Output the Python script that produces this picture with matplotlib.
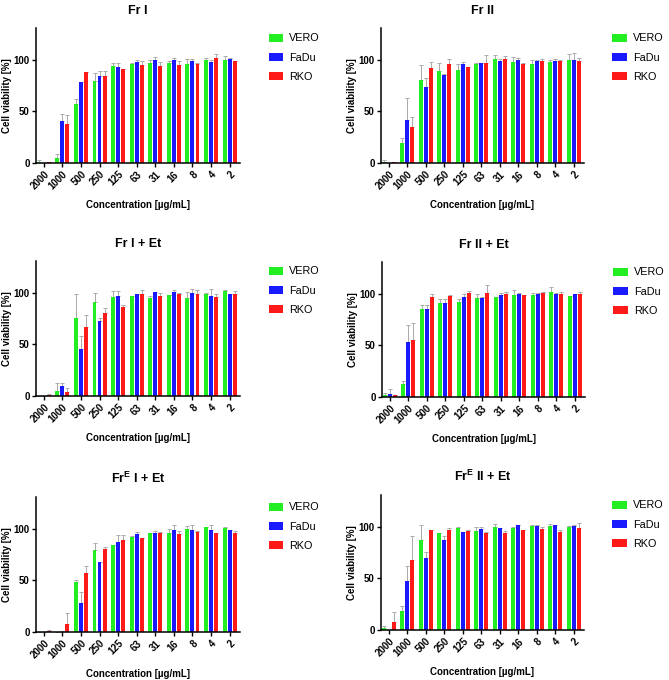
import numpy as np
import matplotlib
matplotlib.use("Agg")
import matplotlib.pyplot as plt

plt.rcParams['font.family'] = ['Liberation Sans', 'DejaVu Sans']
plt.rcParams['mathtext.fontset'] = 'custom'
plt.rcParams['mathtext.bf'] = 'Liberation Sans:bold'
plt.rcParams['mathtext.rm'] = 'Liberation Sans'

conc = ['2000', '1000', '500', '250', '125', '63', '31', '16', '8', '4', '2']
cells = ['VERO', 'FaDu', 'RKO']
colors = ['#22ee22', '#1a1aff', '#ff1a1a']  # green, blue, red

titles = ['Fr I', 'Fr II', 'Fr I + Et', 'Fr II + Et',
          r'Fr$^{\bf E}$ I + Et', r'Fr$^{\bf E}$ II + Et']

# [1] Fr I
fr1_vero = [1, 5, 57, 80, 94, 96.5, 97, 97.5, 96, 100, 99.5]
fr1_vero_sd = [2, 4, 5, 7, 3, 0.5, 3, 1, 5, 2, 4.5]
fr1_fadu = [0, 40.5, 79, 84.5, 93, 98, 100, 100, 99, 98, 100.5]
fr1_fadu_sd = [0, 7.5, 0, 4.5, 4, 1.5, 3, 1.5, 2, 2, 1.5]
fr1_rko = [0.5, 37.5, 88, 84, 91, 95, 94.5, 95.5, 96, 101.5, 98.5]
fr1_rko_sd = [0, 9.5, 0, 5, 0, 4, 3.5, 3.5, 1, 4.5, 0]

# [2] Fr II
fr2_vero = [1, 19.5, 81, 89, 90, 96.5, 100.5, 98, 96, 98, 100]
fr2_vero_sd = [2, 4.5, 14, 8, 6, 0.5, 4.5, 5, 3.5, 2, 5.5]
fr2_fadu = [0, 42, 74, 85, 96, 97, 99, 99.5, 99, 98.5, 100]
fr2_fadu_sd = [0, 21, 8, 1.5, 2, 0.5, 2, 2, 0.5, 2, 7]
fr2_rko = [0.5, 35, 92, 96, 93.5, 97.5, 101, 96.5, 99, 99, 98.5]
fr2_rko_sd = [0, 10, 6, 5, 0, 7.5, 2.5, 0.5, 1.5, 0.5, 3.5]

# [3] Fr I + Et
fr1et_vero = [0, 5, 76, 91, 96.5, 97.5, 95, 98, 95.5, 98.5, 102]
fr1et_vero_sd = [0, 8, 23, 9, 5.5, 0, 2, 0, 5.5, 1.5, 0.5]
fr1et_fadu = [0, 10, 46, 72.5, 97, 98.5, 100.5, 101, 100, 97.5, 98.5]
fr1et_fadu_sd = [0, 3, 12, 3.5, 4.5, 0.5, 0.5, 2, 4, 6.5, 0]
fr1et_rko = [0.5, 4, 67, 81, 86, 99, 97, 98.5, 99, 96.5, 99]
fr1et_rko_sd = [1.5, 4, 12, 4, 2, 4, 3, 1.5, 3.5, 2.5, 3]

# [4] Fr II + Et
fr2et_vero = [2, 13, 85, 91.5, 92, 96.5, 97.5, 99, 99, 102, 98]
fr2et_vero_sd = [2, 2.5, 4, 3.5, 3.5, 3, 0, 5, 1.5, 5, 0]
fr2et_fadu = [3, 53, 85, 91.5, 97.5, 96.5, 99, 100, 99.5, 100, 99.5]
fr2et_fadu_sd = [4.5, 17, 4, 3.5, 2, 0.5, 2, 0.5, 1, 1, 0]
fr2et_rko = [1.5, 55, 97, 98, 100.5, 101, 100, 98.5, 100.5, 100, 100]
fr2et_rko_sd = [0.5, 17, 2.5, 0.5, 2.5, 8, 2, 0, 1, 2, 2]

# [5] FrE I + Et
fre1et_vero = [0, 0, 48.5, 80, 84, 92, 96, 96.5, 99.5, 101.5, 101]
fre1et_vero_sd = [0, 0, 1.5, 6, 0, 1.5, 0, 3.5, 3.5, 0.5, 0.5]
fre1et_fadu = [0, 0.3, 28.5, 68, 87, 95.5, 96, 98.5, 98.5, 99, 98.5]
fre1et_fadu_sd = [0, 0.3, 10, 0, 7, 1.5, 2, 5.5, 5.5, 5, 0]
fre1et_rko = [0.8, 8, 57, 81, 89.5, 91, 96, 95.5, 97, 96.5, 96]
fre1et_rko_sd = [1.2, 10.5, 7.5, 1.5, 4.5, 0, 1.5, 2.5, 1, 0, 2]

# [6] FrE II + Et
fre2et_vero = [1.5, 18, 87, 94, 98.5, 96, 100, 99, 101, 101, 99.5]
fre2et_vero_sd = [2.5, 5.5, 14.5, 0, 1, 3.5, 2.5, 1, 1, 1.5, 1]
fre2et_fadu = [0, 47.5, 70, 87.5, 95, 98, 98.5, 101.5, 101, 101.5, 101]
fre2et_fadu_sd = [0, 14.5, 5.5, 3.5, 0, 1.5, 0, 0.5, 0.5, 0.5, 1]
fre2et_rko = [7.5, 68, 97, 97, 96.5, 94.5, 94, 97.5, 98, 95.5, 99]
fre2et_rko_sd = [9.5, 23, 0.5, 2, 0.5, 1, 2, 0, 1.5, 2, 4.5]

panels = [
    ([fr1_vero, fr1_fadu, fr1_rko], [fr1_vero_sd, fr1_fadu_sd, fr1_rko_sd]),
    ([fr2_vero, fr2_fadu, fr2_rko], [fr2_vero_sd, fr2_fadu_sd, fr2_rko_sd]),
    ([fr1et_vero, fr1et_fadu, fr1et_rko], [fr1et_vero_sd, fr1et_fadu_sd, fr1et_rko_sd]),
    ([fr2et_vero, fr2et_fadu, fr2et_rko], [fr2et_vero_sd, fr2et_fadu_sd, fr2et_rko_sd]),
    ([fre1et_vero, fre1et_fadu, fre1et_rko], [fre1et_vero_sd, fre1et_fadu_sd, fre1et_rko_sd]),
    ([fre2et_vero, fre2et_fadu, fre2et_rko], [fre2et_vero_sd, fre2et_fadu_sd, fre2et_rko_sd]),
]

# axes boxes in pixels: left, right, top, bottom
boxes = [(36, 240, 28, 163), (381, 584, 28, 163),
         (36, 240, 261, 396), (382, 585, 262, 397),
         (36, 240, 497, 632), (381, 584, 495, 630)]

W, H = 669, 680
fig = plt.figure(figsize=(W / 100, H / 100), dpi=100)

x = np.arange(len(conc))
offsets = [-0.27, 0, 0.27]
bw = 0.21

for (vals, sds), (l, r, t, b), title in zip(panels, boxes, titles):
    ax = fig.add_axes([l / W, (H - b) / H, (r - l) / W, (b - t) / H])
    for i in range(3):
        ax.bar(x + offsets[i], vals[i], width=bw, color=colors[i],
               label=cells[i], zorder=2)
        sd = np.array(sds[i])
        ax.errorbar(x + offsets[i], vals[i], yerr=[np.zeros_like(sd), sd],
                    fmt='none', ecolor='#aaaaaa', elinewidth=0.7,
                    capsize=1.2, capthick=0.7, zorder=1)

    ax.set_xlim(-0.42, 10.56)
    ax.set_ylim(0, 131)
    ax.set_yticks([0, 50, 100])
    ax.set_xticks(x)
    ax.set_xticklabels(conc, rotation=45, ha='right', rotation_mode='anchor',
                       fontsize=7, fontweight='bold')
    for lab in ax.get_yticklabels():
        lab.set_fontsize(7)
        lab.set_fontweight('bold')
    ax.spines['top'].set_visible(False)
    ax.spines['right'].set_visible(False)
    ax.spines['left'].set_linewidth(1.1)
    ax.spines['bottom'].set_linewidth(1.1)
    ax.tick_params(axis='both', length=3, width=1.0, pad=1.5)

    ax.set_title(title, fontsize=9, fontweight='bold', pad=10)
    ax.set_xlabel('Concentration [µg/mL]', fontsize=7, fontweight='bold', labelpad=6)
    ax.set_ylabel('Cell viability [%]', fontsize=7, fontweight='bold', labelpad=1)

    ax.legend(loc='upper left', bbox_to_anchor=(1.14, 0.96), frameon=False,
              fontsize=7.8, handlelength=1.3, handleheight=0.75,
              labelspacing=0.85, handletextpad=0.6, borderpad=0, borderaxespad=0)

fig.savefig('out.png', dpi=100)
